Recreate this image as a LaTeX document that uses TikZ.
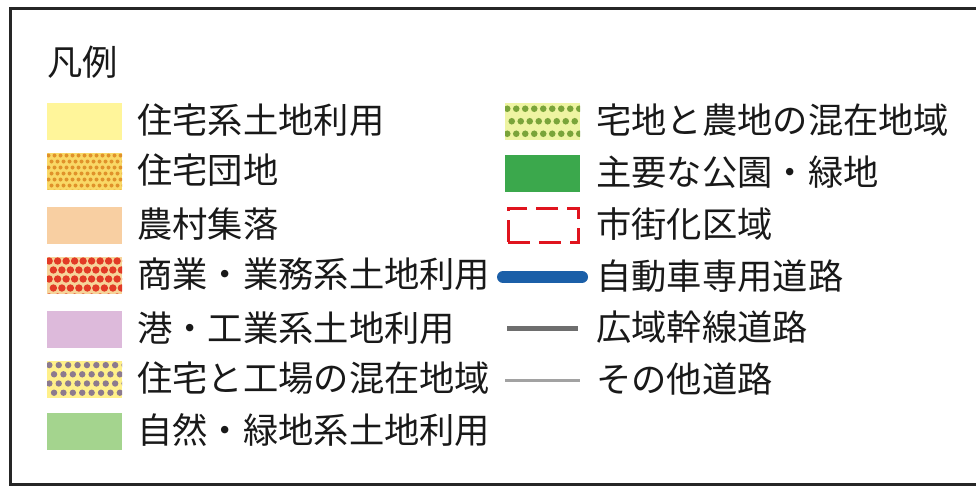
\documentclass[tikz,border=0pt]{standalone}
\usepackage{fontspec}
\setmainfont{Noto Sans CJK JP}
\definecolor{cRes}{HTML}{FFF59A}
\definecolor{cEstBg}{HTML}{F9D866}
\definecolor{cEstDot}{HTML}{E0922A}
\definecolor{cRural}{HTML}{F8CFA2}
\definecolor{cComBg}{HTML}{F6D49A}
\definecolor{cComDot}{HTML}{E23A26}
\definecolor{cPort}{HTML}{DDBADB}
\definecolor{cMixBg}{HTML}{FFF08A}
\definecolor{cMixDot}{HTML}{8C7A8E}
\definecolor{cNat}{HTML}{A4D48E}
\definecolor{cFarmBg}{HTML}{EEF4A2}
\definecolor{cFarmDot}{HTML}{7AA43A}
\definecolor{cPark}{HTML}{3BA84C}
\definecolor{cUrban}{HTML}{E0141E}
\definecolor{cExp}{HTML}{1B5FA8}
\definecolor{cMain}{HTML}{6E6E6E}
\definecolor{cOther}{HTML}{A2A2A2}
\tikzset{
  swatch/.style={minimum width=75pt,minimum height=37pt,inner sep=0pt,outer sep=0pt,anchor=west},
  lbl/.style={anchor=base west,inner sep=0pt,font=\fontsize{35.3}{40}\selectfont,text=black!90},
}
\newcommand{\dotswatch}[6]{% node, bg, dot color, dx, dy, radius
  \fill[#2] (#1.south west) rectangle (#1.north east);
  \begin{scope}
    \clip (#1.south west) rectangle (#1.north east);
    \path (#1.north west) coordinate (tmpnw);
    \foreach \r in {0,...,8}{
      \foreach \c in {0,...,16}{
        \pgfmathsetmacro{\xo}{mod(\r,2)*#4/2}
        \fill[#3] ([xshift=\c*#4pt+\xo pt+#4pt/2-#4pt/4, yshift=-\r*#5pt-#5pt/2]tmpnw) circle[radius=#6pt];
      }
    }
  \end{scope}
}
\begin{document}
\begin{tikzpicture}[x=1pt,y=-1pt]
\useasboundingbox (0,0) rectangle (976,487);
\fill[white] (0,0) rectangle (976,487);
\draw[line width=3pt,black!85] (10,9) rectangle (990,484);

\node[lbl] (title) at (47,75) {凡例};

% left column
\node[swatch,fill=cRes] (s1) at (47,121) {};
\node[swatch] (s2) at (47,171) {};
\dotswatch{s2}{cEstBg}{cEstDot}{6}{6}{2}
\node[swatch,fill=cRural] (s3) at (47,225) {};
\node[swatch] (s4) at (47,275) {};
\dotswatch{s4}{cComBg}{cComDot}{8.5}{9}{3.7}
\node[swatch,fill=cPort] (s5) at (47,329) {};
\node[swatch] (s6) at (47,379) {};
\dotswatch{s6}{cMixBg}{cMixDot}{9.4}{9.2}{3.2}
\node[swatch,fill=cNat] (s7) at (47,431) {};

\node[lbl] (t1) at (137,133) {住宅系土地利用};
\node[lbl] (t2) at (137,183) {住宅団地};
\node[lbl] (t3) at (137,237) {農村集落};
\node[lbl] (t4) at (137,287) {商業・業務系土地利用};
\node[lbl] (t5) at (137,341) {港・工業系土地利用};
\node[lbl] (t6) at (137,391) {住宅と工場の混在地域};
\node[lbl] (t7) at (137,443) {自然・緑地系土地利用};

% right column
\node[swatch] (r1) at (505,121) {};
\dotswatch{r1}{cFarmBg}{cFarmDot}{9}{12.5}{3.3}
\node[swatch,fill=cPark] (r2) at (505,173) {};
\node[swatch,minimum width=70pt,minimum height=34pt,draw=cUrban,line width=3pt,dash pattern=on 22pt off 9pt] (r3) at (508,225) {};
\coordinate (e1a) at (503,277); \coordinate (e1b) at (582,277);
\draw[cExp,line width=12pt,line cap=round] (e1a) -- (e1b);
\coordinate (e2a) at (507,328); \coordinate (e2b) at (578,328);
\draw[cMain,line width=5pt] (e2a) -- (e2b);
\coordinate (e3a) at (505,380); \coordinate (e3b) at (580,380);
\draw[cOther,line width=3pt] (e3a) -- (e3b);

\node[lbl] (u1) at (596,133) {宅地と農地の混在地域};
\node[lbl] (u2) at (596,185) {主要な公園・緑地};
\node[lbl] (u3) at (596,237) {市街化区域};
\node[lbl] (u4) at (596,289) {自動車専用道路};
\node[lbl] (u5) at (596,340) {広域幹線道路};
\node[lbl] (u6) at (596,392) {その他道路};
\end{tikzpicture}
\end{document}
